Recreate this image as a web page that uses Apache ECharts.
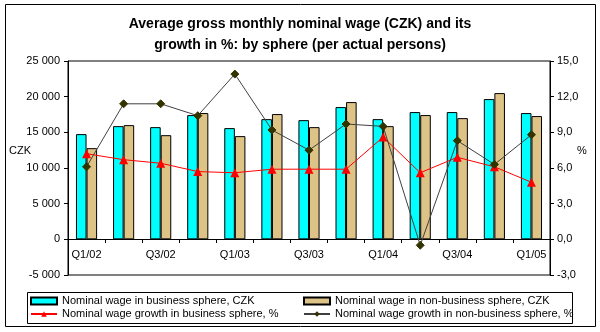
<!DOCTYPE html>
<html>
<head>
<meta charset="utf-8">
<script src="https://cdn.jsdelivr.net/npm/echarts@6/dist/echarts.min.js"></script>
<style>html,body{margin:0;padding:0;background:#fff}#c{width:600px;height:332px}</style>
</head>
<body>
<div id="c"></div>
<script>
const categories = ['Q1/02','Q2/02','Q3/02','Q4/02','Q1/03','Q2/03','Q3/03','Q4/03','Q1/04','Q2/04','Q3/04','Q4/04','Q1/05'];
const wageBusiness = [14750,15870,15730,17420,15590,16850,16710,18540,16850,17840,17840,19660,17700];
const wageNonBusiness = [12780,16010,14600,17700,14470,17560,15730,19240,15870,17420,16990,20500,17280];
const growthBusiness = [7.2,6.7,6.4,5.7,5.6,5.9,5.9,5.9,8.6,5.6,6.9,6.1,4.8];
const growthNonBusiness = [6.1,11.4,11.4,10.4,13.9,9.2,7.5,9.7,9.5,-0.5,8.3,6.3,8.8];
const seriesNames = ['Nominal wage in business sphere, CZK','Nominal wage in non-business sphere, CZK','Nominal wage growth in business sphere, %','Nominal wage growth in non-business sphere, %'];
const titleText = 'Average gross monthly nominal wage (CZK) and its\ngrowth in %: by sphere (per actual persons)';

const FONT = '"Liberation Sans", Arial, sans-serif';
const chart = echarts.init(document.getElementById('c'), null, {renderer:'canvas'});
const fmtLeft = v => { const s = Math.abs(v).toString(); const t = s.length > 3 ? s.slice(0, s.length-3) + ' ' + s.slice(-3) : s; return (v < 0 ? '-' : '') + t; };
const fmtRight = v => v.toFixed(1).replace('.', ',');
const legendText = {fontFamily: FONT, fontSize: 11, color: '#000', lineHeight: 12};

chart.setOption({
  animation: false,
  textStyle: {fontFamily: FONT},
  title: {
    text: titleText, left: 'center', top: 14, padding: 0,
    textStyle: {fontFamily: FONT, fontSize: 14, fontWeight: 'bold', color: '#000', lineHeight: 21}
  },
  grid: {left: 68, top: 61, width: 482, height: 214, show: true, borderColor: '#000', borderWidth: 1, backgroundColor: 'transparent'},
  legend: [
    {left: 30, top: 295, padding: 0, orient: 'vertical', itemWidth: 26, itemHeight: 7, itemGap: 1, textStyle: legendText,
     data: [{name: seriesNames[0], icon: 'rect'}, seriesNames[2]]},
    {left: 303, top: 295, padding: 0, orient: 'vertical', itemWidth: 26, itemHeight: 7, itemGap: 1, textStyle: legendText,
     data: [{name: seriesNames[1], icon: 'rect'}, seriesNames[3]]}
  ],
  xAxis: {
    type: 'category', data: categories, boundaryGap: true, position: 'bottom', offset: -36,
    axisLine: {show: true, onZero: false, lineStyle: {color: '#000', width: 1}},
    axisTick: {show: true, length: 4, interval: 0, lineStyle: {color: '#000'}},
    axisLabel: {interval: 1, color: '#000', fontSize: 11, fontFamily: FONT, margin: 10},
    splitLine: {show: false}
  },
  yAxis: [
    {type: 'value', min: -5000, max: 25000, interval: 5000,
     axisLine: {show: true, onZero: false, lineStyle: {color: '#000'}},
     axisTick: {show: true, length: 4, lineStyle: {color: '#000'}},
     axisLabel: {color: '#000', fontSize: 11, fontFamily: FONT, margin: 8, formatter: fmtLeft},
     splitLine: {show: false}},
    {type: 'value', min: -3, max: 15, interval: 3, position: 'right',
     axisLine: {show: true, onZero: false, lineStyle: {color: '#000'}},
     axisTick: {show: true, length: 4, lineStyle: {color: '#000'}},
     axisLabel: {color: '#000', fontSize: 11, fontFamily: FONT, margin: 7, formatter: fmtRight},
     splitLine: {show: false}}
  ],
  graphic: [
    {type: 'rect', shape: {x: 5.5, y: 4.5, width: 590, height: 322}, style: {fill: null, stroke: '#000', lineWidth: 1}, silent: true},
    {type: 'rect', shape: {x: 27.5, y: 292.5, width: 545, height: 31}, style: {fill: null, stroke: '#000', lineWidth: 1}, silent: true},
    {type: 'text', left: 9, top: 145, style: {text: 'CZK', font: '11px ' + FONT, fill: '#000'}},
    {type: 'text', left: 577, top: 145, style: {text: '%', font: '11px ' + FONT, fill: '#000'}}
  ],
  series: [
    {name: seriesNames[0], type: 'bar', data: wageBusiness, yAxisIndex: 0, barGap: '0%', barCategoryGap: '43%',
     itemStyle: {color: '#00FFFF', borderColor: '#000', borderWidth: 1}},
    {name: seriesNames[1], type: 'bar', data: wageNonBusiness, yAxisIndex: 0,
     itemStyle: {color: '#DEC387', borderColor: '#000', borderWidth: 1}},
    {name: seriesNames[2], type: 'line', data: growthBusiness, yAxisIndex: 1, symbol: 'triangle', symbolSize: 9,
     lineStyle: {color: '#FF0000', width: 1}, itemStyle: {color: '#FF0000'}, z: 4},
    {name: seriesNames[3], type: 'line', data: growthNonBusiness, yAxisIndex: 1, symbol: 'diamond', symbolSize: 8,
     lineStyle: {color: '#404040', width: 1}, itemStyle: {color: '#333300', borderColor: '#333300'}, z: 5}
  ]
});
</script>
</body>
</html>
